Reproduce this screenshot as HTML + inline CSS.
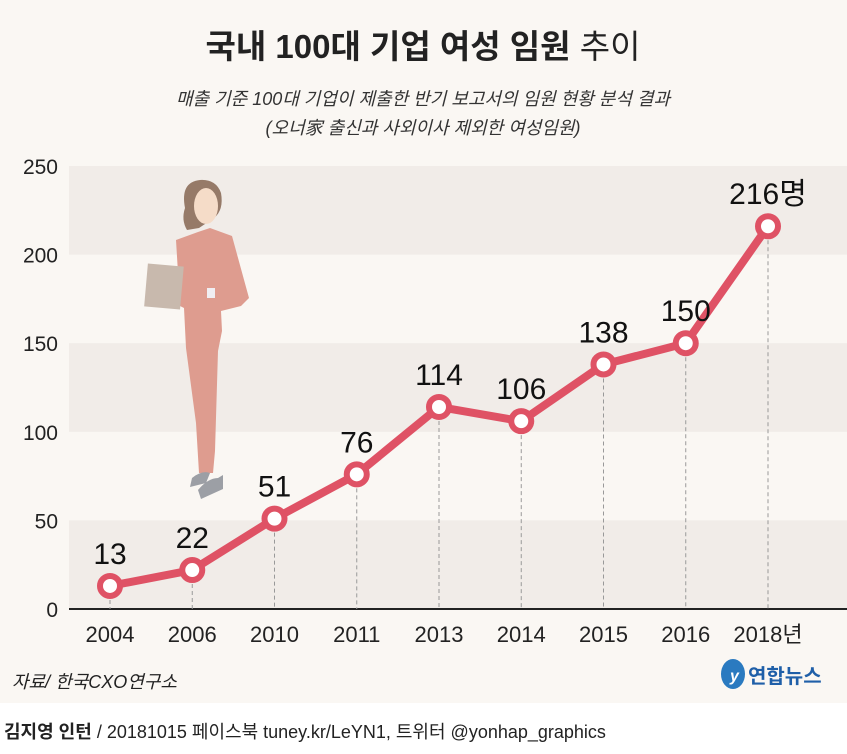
<!DOCTYPE html>
<html><head><meta charset="utf-8"><style>
body{margin:0;width:847px;height:749px;overflow:hidden;background:#fff;font-family:"Liberation Sans","Noto Sans CJK KR",sans-serif;}
</style></head><body>
<svg width="847" height="749" xmlns="http://www.w3.org/2000/svg">
<rect x="0" y="0" width="847" height="703" fill="#faf7f3"/>
<text x="423" y="58" text-anchor="middle" font-size="33" font-weight="bold" fill="#222">국내 100대 기업 여성 임원 <tspan font-weight="normal">추이</tspan></text>
<text x="423" y="105" text-anchor="middle" font-size="18" font-style="italic" fill="#333">매출 기준 100대 기업이 제출한 반기 보고서의 임원 현황 분석 결과</text>
<text x="423" y="134" text-anchor="middle" font-size="18" font-style="italic" fill="#333">(오너家 출신과 사외이사 제외한 여성임원)</text>
<g id="bands"></g><g id="yt"></g>
<g>
<path d="M200 180 q-20 2 -15 28 q-4 12 2 22 l12 -2 l15 -10 q10 -8 7 -25 q-5 -14 -21 -13 z" fill="#967a68"/>
<ellipse cx="206" cy="206" rx="12" ry="18" fill="#f5dcc8"/>
<path d="M176 240 l22 -8 l12 -4 l22 8 l17 62 l-8 8 l-20 5 l1 20 l-4 20 l-3 100 l-2 22 l-14 0 l-3 -50 l-10 -75 l-2 -40 l-4 -2 z" fill="#de9c8f"/>
<rect x="207" y="288" width="8" height="10" fill="#f0eef2"/>
<rect x="146" y="265" width="36" height="43" fill="#c8b9ad" transform="rotate(5 164 286)"/>
<path d="M192 478 q10 -8 18 -5 l-4 10 l-16 4 z M198 490 q10 -12 20 -12 l5 -3 l0 14 l-22 10 z" fill="#9c9fa5"/>
</g>
<g id="plot"></g>
<text x="12" y="688" font-size="18" font-style="italic" fill="#222">자료/ 한국CXO연구소</text>
<g>
<ellipse cx="733" cy="674" rx="12" ry="15" fill="#2a7ac0"/>
<text x="730" y="681" font-size="16" font-style="italic" font-weight="bold" fill="#fff">y</text>
<text x="748" y="683" font-size="20" font-weight="bold" fill="#1f5fa8">연합뉴스</text>
</g>
<text x="4" y="738" font-size="18" fill="#222"><tspan font-weight="bold">김지영 인턴</tspan> / 20181015  페이스북 tuney.kr/LeYN1, 트위터 @yonhap_graphics</text>
</svg>
<script>
const categories=["2004","2006","2010","2011","2013","2014","2015","2016","2018"];
const values=[13,22,51,76,114,106,138,150,216];
const yTicks=[0,50,100,150,200,250];
const NS="http://www.w3.org/2000/svg";
const x0=110,dx=82.25,yb=609,ys=443/250;
const X=i=>x0+i*dx, Y=v=>yb-v*ys;
function mk(t,a,p){const e=document.createElementNS(NS,t);for(const k in a)e.setAttribute(k,a[k]);p.appendChild(e);return e;}
const bands=document.getElementById('bands'),yt=document.getElementById('yt'),plot=document.getElementById('plot');
for(let i=0;i<yTicks.length-1;i+=2){const r=mk('rect',{x:69,y:Y(yTicks[i+1]),width:778,height:Y(yTicks[i])-Y(yTicks[i+1]),fill:'#f1ece8'},bands);

}
yTicks.forEach(v=>{const t=mk('text',{x:58,y:Y(v)+8,'text-anchor':'end','font-size':21,fill:'#222'},yt);t.textContent=v;

});
const ax=mk('line',{x1:69,x2:847,y1:yb,y2:yb,stroke:'#222','stroke-width':2},plot);


categories.forEach((c,i)=>{const l=mk('line',{x1:X(i),x2:X(i),y1:Y(values[i]),y2:yb,stroke:'#999','stroke-width':1,'stroke-dasharray':'4 3'},plot);


const t=mk('text',{x:X(i),y:642,'text-anchor':'middle','font-size':22,fill:'#222'},plot);t.textContent=c+(i==categories.length-1?'년':'');

});
const p=mk('polyline',{points:values.map((v,i)=>X(i)+','+Y(v)).join(' '),fill:'none',stroke:'#df5265','stroke-width':8,'stroke-linejoin':'round'},plot);


values.forEach((v,i)=>{const c=mk('circle',{cx:X(i),cy:Y(v),r:10,fill:'#fff',stroke:'#df5265','stroke-width':6},plot);


const t=mk('text',{x:X(i),y:Y(v)-22,'text-anchor':'middle','font-size':30,fill:'#111'},plot);t.textContent=v+(i==values.length-1?'명':'');

});
</script>
</body></html>
